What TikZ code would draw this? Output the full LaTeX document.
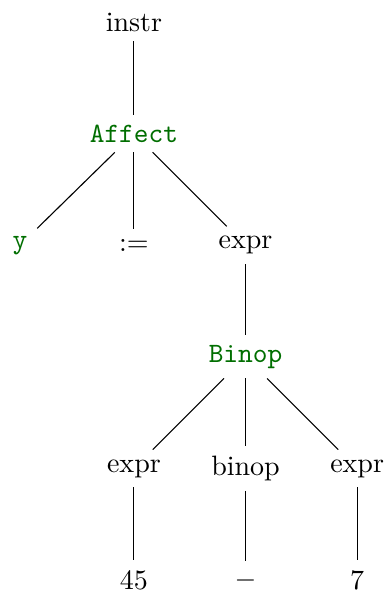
\documentclass[tikz,border=0pt]{standalone}
\usepackage{amsmath}
\usepackage{tikz}
\usepackage{xcolor}
\usetikzlibrary{positioning}

\begin{document}
\begin{tikzpicture}[cstr/.style={font=\ttfamily, text=green!43!black}]
    \useasboundingbox (-1.68,0.276) rectangle (3.19,-7.25);

    \node (instr) at (0,0) {instr};
    \node[cstr] (affect) at (0,-1.4) {Affect};
    \node[cstr] (y) at (-1.43,-2.8) {y};
    \node (assign) at (0,-2.8) {$:=$};
    \node (expr) at (1.4,-2.8) {expr};
    \node[cstr] (binop) at (1.4,-4.2) {Binop};
    \node (lexpr) at (0,-5.6) {expr};
    \node (op) at (1.4,-5.6) {binop};
    \node (rexpr) at (2.8,-5.6) {expr};
    \node (num) at (0,-7.0) {45};
    \node (minus) at (1.4,-7.0) {$-$};
    \node (seven) at (2.8,-7.0) {7};

    \draw (instr) -- (affect);
    \draw (affect) -- (y);
    \draw (affect) -- (assign);
    \draw (affect) -- (expr);
    \draw (expr) -- (binop);
    \draw (binop) -- (lexpr);
    \draw (binop) -- (op);
    \draw (binop) -- (rexpr);
    \draw (lexpr) -- (num);
    \draw (op) -- (minus);
    \draw (rexpr) -- (seven);
\end{tikzpicture}
\end{document}
